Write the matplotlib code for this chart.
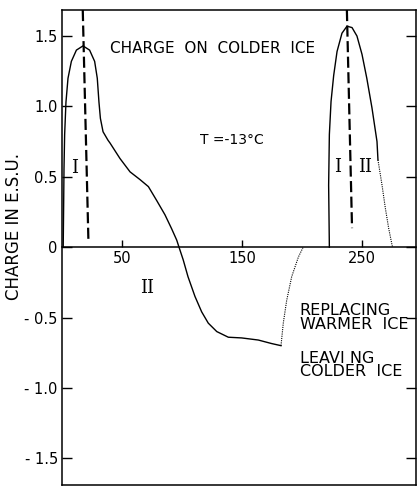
import matplotlib
matplotlib.use("Agg")
import matplotlib.pyplot as plt

# ─── Datos ───────────────────────────────────────────────────────────────────
# curva 1: pico I, caída, región II negativa
t_a = [1.0, 1.4, 1.67, 2.2, 3.3, 5.0, 7.8, 12.0, 17.5, 23.0, 27.2, 29.4, 30.8,
       32.0, 34.2, 38.3, 40.0, 48.3, 56.7, 65.0, 72.0, 79.0, 85.8, 91.4, 95.6,
       97.5, 101.0, 105.0, 110.8, 116.4, 121.9, 129.0, 138.6, 149.7, 163.6,
       174.7, 182.5]
q_a = [0.0, 0.32, 0.56, 0.80, 1.03, 1.20, 1.32, 1.40, 1.43, 1.40, 1.32, 1.20,
       1.03, 0.915, 0.82, 0.76, 0.74, 0.63, 0.535, 0.48, 0.43, 0.33, 0.23,
       0.13, 0.05, 0.0, -0.09, -0.21, -0.35, -0.46, -0.54, -0.60, -0.64,
       -0.645, -0.66, -0.685, -0.70]
# tramo punteado de vuelta a cero
t_a_dot = [182.5, 184.4, 187.2, 191.4, 197.0, 201.0]
q_a_dot = [-0.70, -0.54, -0.38, -0.21, -0.07, 0.0]

# curva 2: segundo pico
t_b = [222.8, 222.2, 222.8, 224.2, 226.4, 229.2, 233.3, 237.5, 241.7, 245.8,
       250.0, 254.0, 258.3, 262.5, 263.3]
q_b = [0.0, 0.44, 0.80, 1.035, 1.22, 1.39, 1.52, 1.57, 1.56, 1.50, 1.37, 1.20,
       0.99, 0.75, 0.62]
t_b_dot = [263.3, 266.7, 269.4, 272.2, 275.0, 275.5]
q_b_dot = [0.62, 0.44, 0.28, 0.135, 0.016, 0.0]

# líneas de trazos (separación I / II)
dash1_t = [17.3, 22.0]
dash1_q = [1.685, 0.05]
dash2_t = [237.4, 241.7]
dash2_q = [1.685, 0.135]

xticks = [50, 150, 250]
yticks = [1.5, 1.0, 0.5, 0, -0.5, -1.0, -1.5]
ytick_labels = ["1.5", "1.0", "0.5", "0", "- 0.5", "- 1.0", "- 1.5"]

# ─── Estilo ──────────────────────────────────────────────────────────────────
plt.rcParams.update({
    "font.family": "DejaVu Sans",
    "font.size": 10.5,
})
INK = "black"

fig = plt.figure(figsize=(4.19, 4.87), dpi=100, facecolor="white")
ax = fig.add_axes([62 / 419, 2 / 487, 354 / 419, 475 / 487])
ax.set_xlim(0, 295)
ax.set_ylim(-1.69, 1.685)

# curvas
ax.plot(t_a, q_a, color=INK, lw=1.0)
ax.plot(t_a_dot, q_a_dot, color=INK, lw=0.8, linestyle=(0, (1, 1)))
ax.plot(t_b, q_b, color=INK, lw=1.0)
ax.plot(t_b_dot, q_b_dot, color=INK, lw=0.8, linestyle=(0, (1, 1)))
ax.plot(dash1_t, dash1_q, color=INK, lw=1.6, dashes=(5, 2))
ax.plot(dash2_t, dash2_q, color=INK, lw=1.6, dashes=(5, 2))

# ejes
for s in ["left", "right", "top", "bottom"]:
    ax.spines[s].set_linewidth(1.1)
    ax.spines[s].set_color(INK)
ax.spines["bottom"].set_position(("data", 0))
# borde inferior del marco
ax.plot([0, 1], [0, 0], transform=ax.transAxes, color=INK, lw=1.1,
        clip_on=False)

ax.set_xticks(xticks)
ax.set_xticklabels([str(v) for v in xticks])
ax.set_yticks(yticks)
ax.set_yticklabels(ytick_labels)
ax.tick_params(axis="x", direction="in", length=5, width=1.0, pad=3,
               labelsize=10.5)
ax.tick_params(axis="y", direction="in", length=7, width=1.0, pad=3,
               labelsize=10.5, right=True)

ax.set_ylabel("CHARGE IN E.S.U.", fontsize=12)
ax.yaxis.set_label_coords(-(62 - 23) / 354, (485 - 226) / 475)

# textos
ax.text(40, 1.41, "CHARGE  ON  COLDER  ICE", ha="left", va="center",
        fontsize=11)
ax.text(115, 0.76, "T =-13°C", ha="left", va="center", fontsize=10)
serif = dict(family="DejaVu Serif", fontsize=13, ha="center", va="center")
ax.text(10.8, 0.56, "I", **serif)
ax.text(71, -0.29, "II", **serif)
ax.text(230, 0.57, "I", **serif)
ax.text(252.5, 0.57, "II", **serif)
ax.text(198, -0.40, "REPLACING\nWARMER  ICE", ha="left", va="top",
        fontsize=11.5, linespacing=0.9)
ax.text(198, -0.735, "LEAVI NG\nCOLDER  ICE", ha="left", va="top",
        fontsize=11.5, linespacing=0.9)

fig.savefig("out.png", dpi=100, facecolor="white")
